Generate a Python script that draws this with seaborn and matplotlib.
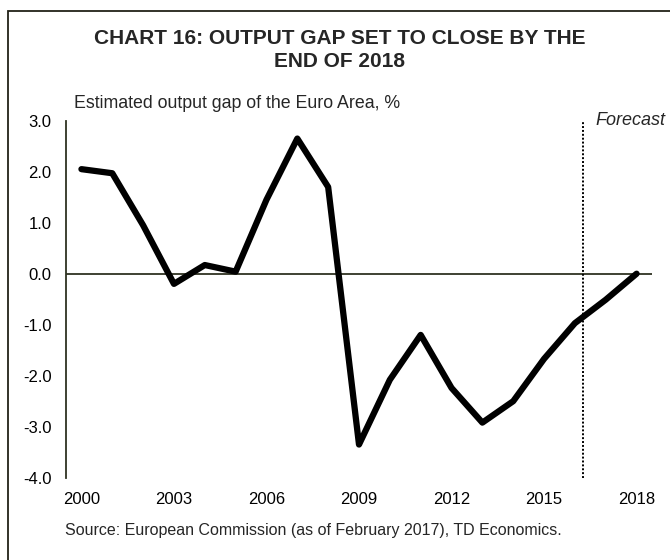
import numpy as np
import pandas as pd
import matplotlib
matplotlib.use("Agg")
import matplotlib.pyplot as plt
from matplotlib.patches import Rectangle
import seaborn as sns

years = list(range(2000, 2019))
output_gap = [2.05, 1.97, 0.95, -0.2, 0.17, 0.04, 1.45, 2.65, 1.7, -3.35,
              -2.08, -1.2, -2.24, -2.92, -2.5, -1.67, -0.97, -0.51, 0.0]
xtick_years = [2000, 2003, 2006, 2009, 2012, 2015, 2018]
yticks = [3.0, 2.0, 1.0, 0.0, -1.0, -2.0, -3.0, -4.0]
forecast_start = 2016.27

title = "CHART 16: OUTPUT GAP SET TO CLOSE BY THE\nEND OF 2018"
subtitle = "Estimated output gap of the Euro Area, %"
source = "Source: European Commission (as of February 2017), TD Economics."

sns.set_style("white")
plt.rcParams['font.family'] = ['Liberation Sans', 'DejaVu Sans']

df = pd.DataFrame({"year": years, "gap": output_gap})

fig = plt.figure(figsize=(6.7, 5.6), dpi=100)
W, H = 670, 560
ax = fig.add_axes([66 / W, 1 - 477.7 / H, (652 - 66) / W, (477.7 - 120.7) / H])

sns.lineplot(data=df, x="year", y="gap", ax=ax, color="black", linewidth=4.5,
             solid_joinstyle="round", solid_capstyle="round", zorder=3)

ax.set_xlim(1999.5, 2018.5)
ax.set_ylim(-4.0, 3.0)
ax.axhline(0, color="#2f3322", linewidth=1.3, zorder=2)
ax.axvline(forecast_start, color="black", linewidth=1.4, linestyle=(0, (1, 1)), zorder=2)

ax.set_xticks(xtick_years)
ax.set_xticklabels([str(y) for y in xtick_years])
ax.set_yticks(yticks)
ax.set_yticklabels([f"{v:.1f}" for v in yticks])
ax.tick_params(axis="both", length=0, labelsize=12, colors="black")
ax.tick_params(axis="y", pad=10.5)
ax.tick_params(axis="x", pad=10.5)
ax.set_xlabel("")
ax.set_ylabel("")
for s in ["top", "right", "bottom"]:
    ax.spines[s].set_visible(False)
ax.spines["left"].set_color("#2f3322")
ax.spines["left"].set_linewidth(1.3)

fig.text(340 / W, 1 - 50 / H, title, ha="center", va="center", fontsize=15,
         fontweight="bold", linespacing=1.25)
fig.text(74 / W, 1 - 104 / H, subtitle, ha="left", va="center", fontsize=12.8)
ax.text(forecast_start + 0.38, 3.0, "Forecast", ha="left", va="center",
        fontsize=13, style="italic")
fig.text(65 / W, 1 - 530 / H, source, ha="left", va="center", fontsize=11.5)

border = Rectangle((8 / W, -0.2), 1.5, 1.2 - 11 / H, transform=fig.transFigure,
                   fill=False, edgecolor="#222218", linewidth=1.3)
fig.patches.append(border)

fig.savefig("out.png", dpi=100)
